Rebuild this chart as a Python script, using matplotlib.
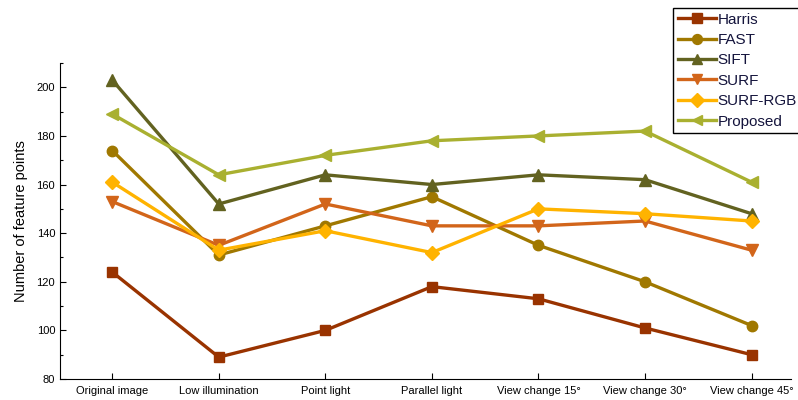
import numpy as np
import matplotlib.pyplot as plt
from matplotlib.ticker import MultipleLocator

plt.rcParams['font.family'] = ['Liberation Sans', 'DejaVu Sans']

conditions = ["Original image", "Low illumination", "Point light", "Parallel light",
              "View change 15\u00b0", "View change 30\u00b0", "View change 45\u00b0"]
methods = ["Harris", "FAST", "SIFT", "SURF", "SURF-RGB", "Proposed"]
harris = [124, 89, 100, 118, 113, 101, 90]
fast = [174, 131, 143, 155, 135, 120, 102]
sift = [203, 152, 164, 160, 164, 162, 148]
surf = [153, 135, 152, 143, 143, 145, 133]
surf_rgb = [161, 133, 141, 132, 150, 148, 145]
proposed = [189, 164, 172, 178, 180, 182, 161]

series = [harris, fast, sift, surf, surf_rgb, proposed]
colors = ["#993300", "#A07800", "#626220", "#D2651A", "#FFB300", "#A9B030"]
markers = ["s", "o", "^", "v", "D", "<"]
sizes = [7.5, 7.5, 8, 8, 7.5, 8]

fig = plt.figure(figsize=(7.98, 4.0), dpi=100)
ax = fig.add_axes([0.0752, 0.0525, 0.916, 0.79])
x = np.arange(len(conditions))
for vals, name, c, m, ms in zip(series, methods, colors, markers, sizes):
    ax.plot(x, vals, color=c, marker=m, markersize=ms, lw=2.4, label=name)

ax.set_xlim(-0.49, 6.37)
ax.set_ylim(80, 210)
ax.set_xticks(x)
ax.set_xticklabels(conditions, fontsize=8)
ax.yaxis.set_major_locator(MultipleLocator(20))
ax.yaxis.set_minor_locator(MultipleLocator(10))
ax.tick_params(axis='both', direction='in', labelsize=8, width=0.8, length=4)
ax.tick_params(axis='y', which='minor', direction='in', length=2.5, width=0.8)
ax.tick_params(axis='x', pad=5)
ax.set_ylabel("Number of feature points", fontsize=10.5, labelpad=6)
for s in ["top", "right"]:
    ax.spines[s].set_visible(False)

leg = ax.legend(loc='upper left', bbox_to_anchor=(673 / 798, 1 - 8 / 400),
                bbox_transform=fig.transFigure, borderaxespad=0, fancybox=False,
                edgecolor='black', framealpha=1, fontsize=11, handlelength=2.5,
                handletextpad=0.1, labelspacing=0.42, borderpad=0.3, markerscale=0.95)
leg.get_frame().set_linewidth(1.0)
for t in leg.get_texts():
    t.set_color("#14143c")

fig.savefig("out.png", dpi=100)
